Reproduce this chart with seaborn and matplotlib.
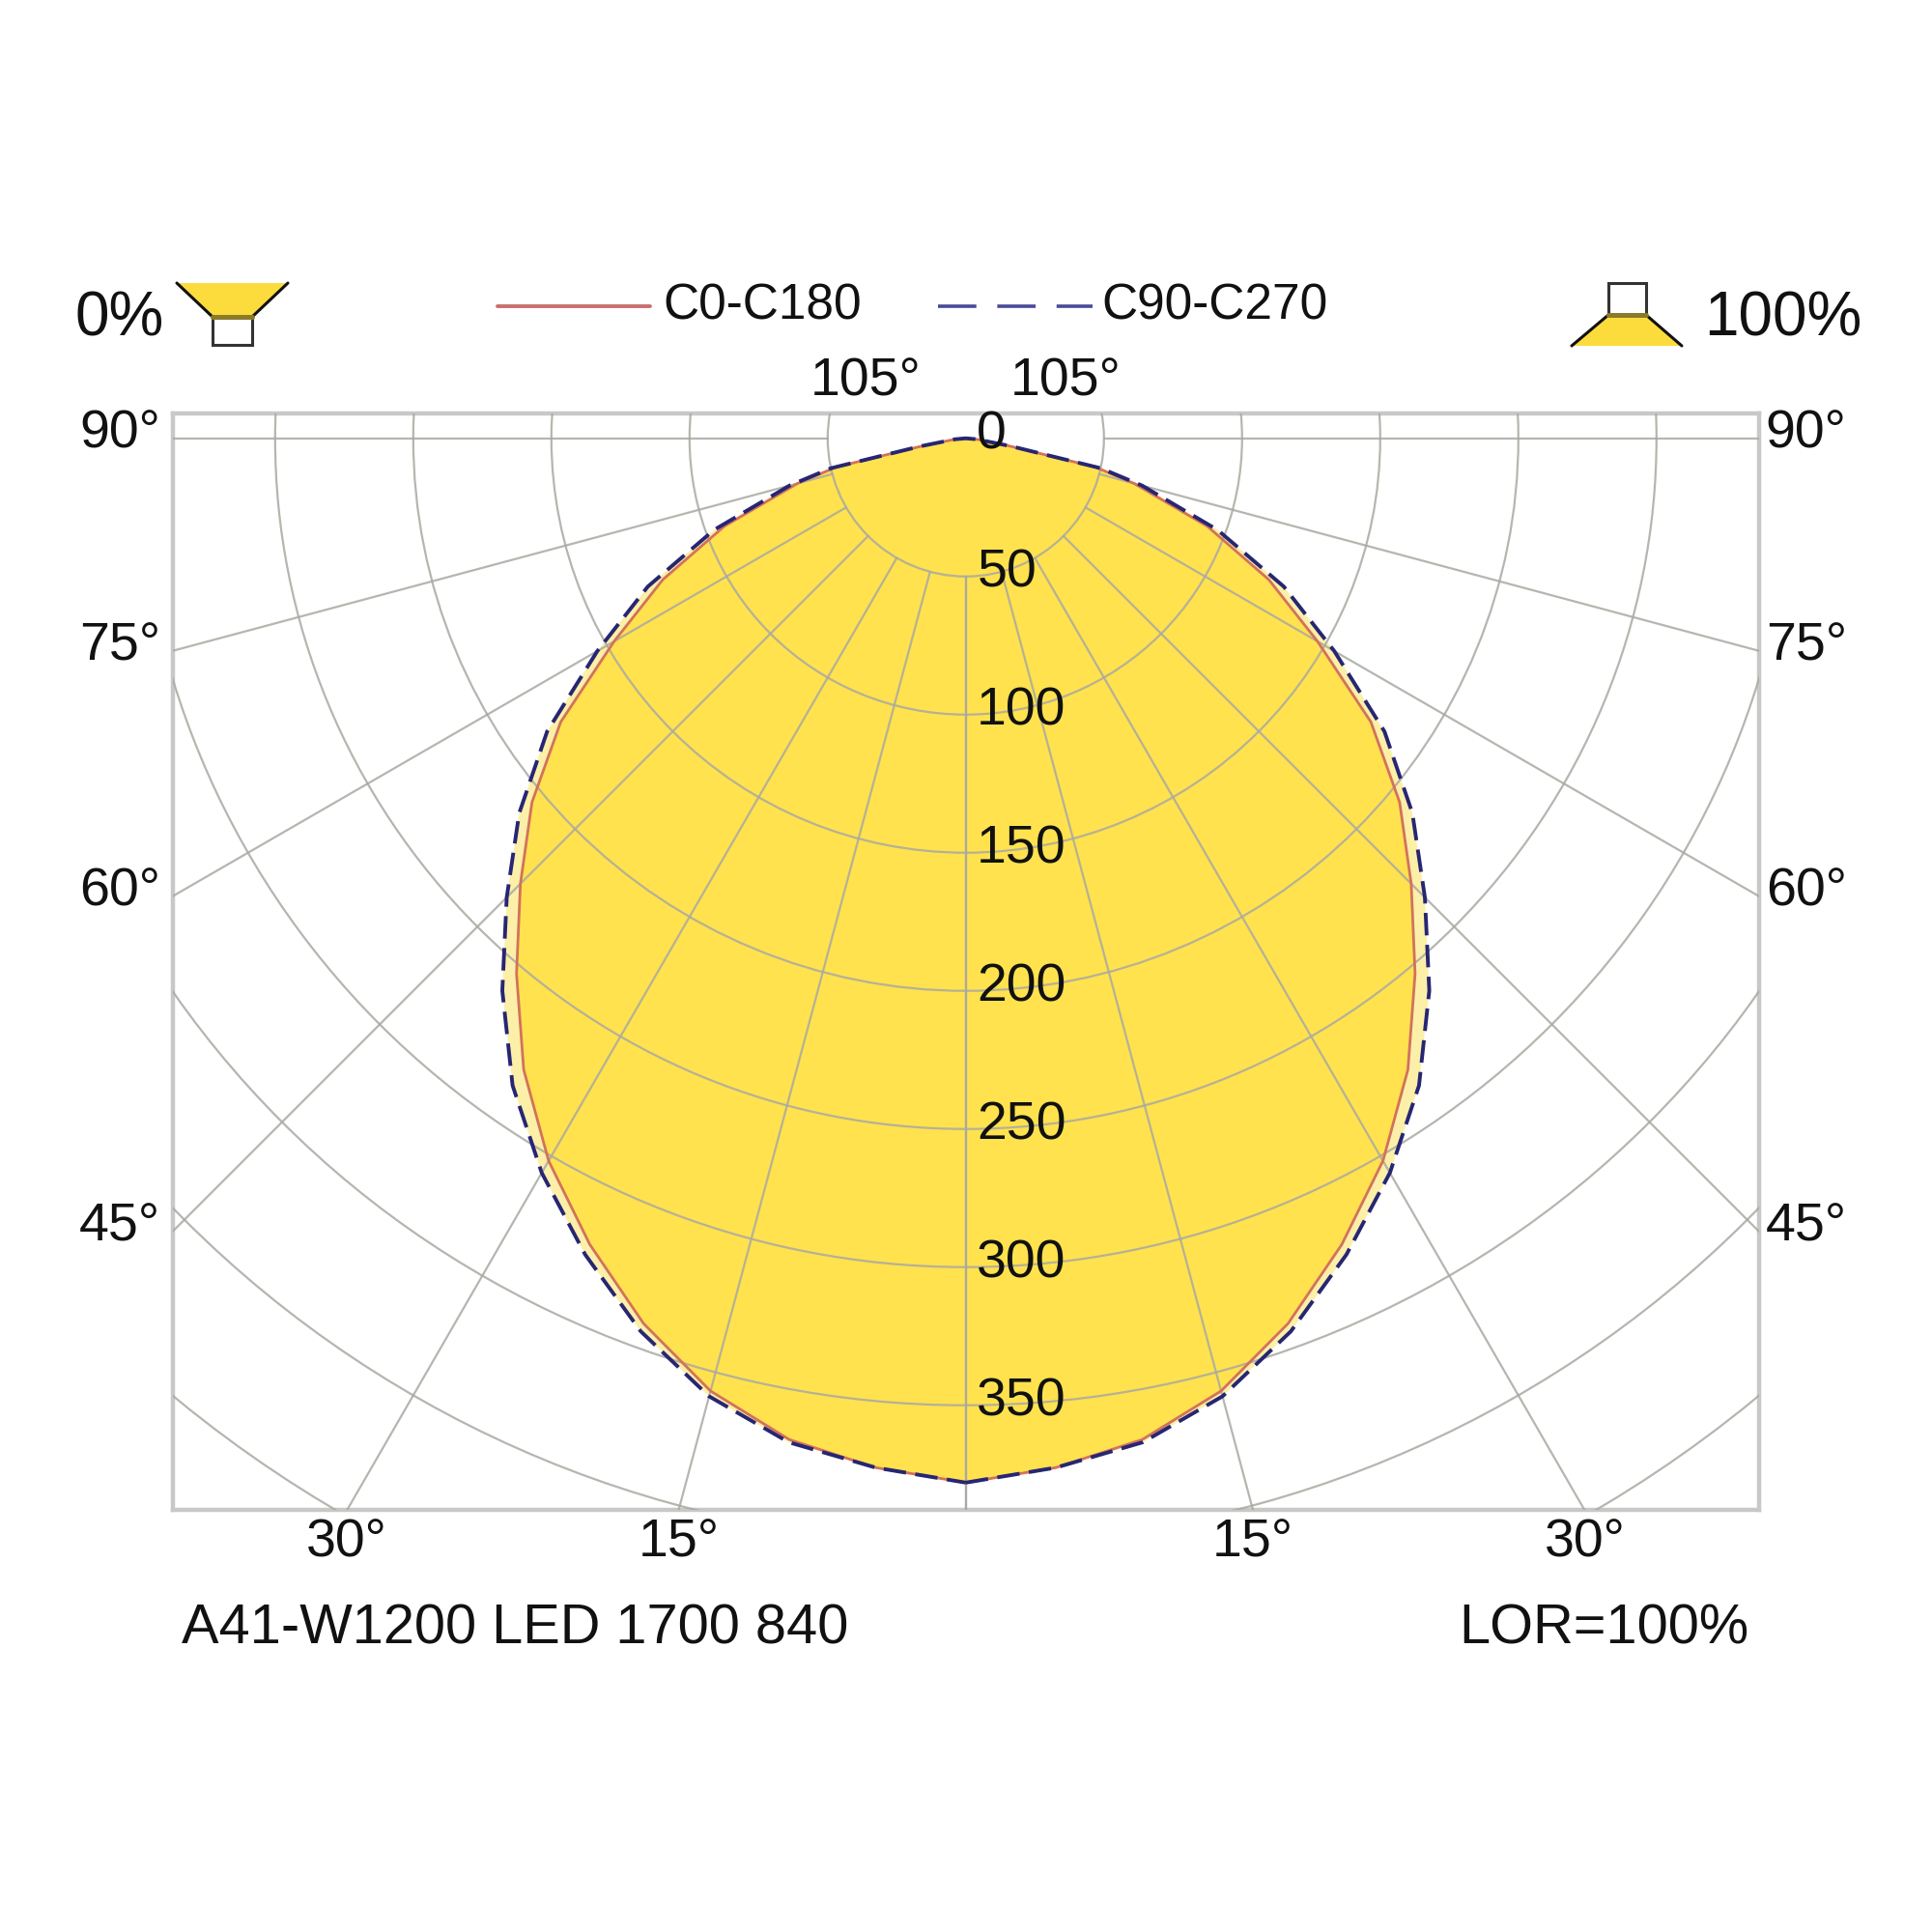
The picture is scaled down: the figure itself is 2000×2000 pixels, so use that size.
import numpy as np
import pandas as pd
import matplotlib
matplotlib.use("Agg")
import matplotlib.pyplot as plt
import seaborn as sns
from matplotlib.patches import Circle, Polygon
from matplotlib.lines import Line2D

sns.set_theme(style="white")
plt.rcParams["font.family"] = ["Liberation Sans", "DejaVu Sans"]

gamma = [0, 5, 10, 15, 20, 25, 30, 35, 40, 45, 50, 55, 60, 65, 70, 75, 77.5, 80, 85, 90]
c0_c180 = [378, 374, 368, 357, 341, 322, 302, 279, 253, 228, 205, 179, 147, 121, 93, 63, 48, 16, 4, 0]
c90_c270 = [378, 374, 369, 359, 344, 326, 307, 286, 261, 235, 211, 185, 154, 127, 97, 66, 50, 17, 4, 0]

rings = [50, 100, 150, 200, 250, 300, 350, 400, 450]
ring_labels = [0, 50, 100, 150, 200, 250, 300, 350]
spokes = [0, 15, 30, 45, 60, 75, 90, 105]

side_labels = [90, 75, 60, 45]
bottom_labels = [15, 30]

XMAX, YMIN, YMAX = 287, -388, 9

df = pd.DataFrame({"gamma": gamma, "C0-C180": c0_c180, "C90-C270": c90_c270})


def outline(values):
    g = np.radians(np.array(df["gamma"]))
    v = np.array(values, dtype=float)
    # right half from nadir up, then mirrored left half back down
    x = np.concatenate([v * np.sin(g), (-v * np.sin(g))[::-1]])
    y = np.concatenate([-v * np.cos(g), (-v * np.cos(g))[::-1]])
    return x, y


fig = plt.figure(figsize=(10, 10), dpi=200)
fig.patch.set_facecolor("white")
ax = fig.add_axes([0.0895, 0.2183, 0.8208, 0.5677])
ax.set_xlim(-XMAX, XMAX)
ax.set_ylim(YMIN, YMAX)
ax.set_xticks([])
ax.set_yticks([])
for s in ax.spines.values():
    s.set_color("#c8c8c6")
    s.set_linewidth(1.6)

# fills
xb, yb = outline(df["C90-C270"])
xr, yr = outline(df["C0-C180"])
ax.fill(xb, yb, color="#fcefa8", lw=0, zorder=1)
ax.fill(xr, yr, color="#ffe24e", lw=0, zorder=1.5)

# grid
grid_col = "#a9a9a2"
for r in rings:
    ax.add_patch(Circle((0, 0), r, fill=False, ec=grid_col, lw=0.8, alpha=0.85, zorder=3))
for a in spokes:
    for sgn in (1, -1):
        t = np.radians(a) * sgn
        ax.plot([50 * np.sin(t), 700 * np.sin(t)], [-50 * np.cos(t), -700 * np.cos(t)],
                color=grid_col, lw=0.8, alpha=0.85, zorder=3)

# curves
sns.lineplot(x=xr, y=yr, sort=False, estimator=None, ax=ax, color="#d2725c", lw=1.0, zorder=4)
sns.lineplot(x=xb, y=yb, sort=False, estimator=None, ax=ax, color="#262673", lw=1.4,
             linestyle=(0, (6, 2.5)), zorder=5)

# radius labels
for r in ring_labels:
    ax.text(4, -r + 1, str(r), fontsize=20, ha="left", va="center", color="#111111", zorder=6)

# angle labels
for a in side_labels:
    yy = 0 if a == 90 else -XMAX / np.tan(np.radians(a))
    ax.text(-XMAX - 4.5, yy + 1.5, f"{a}°", fontsize=20, ha="right", va="center", color="#111111")
    ax.text(XMAX + 2.5, yy + 1.5, f"{a}°", fontsize=20, ha="left", va="center", color="#111111")
for a in bottom_labels:
    xx = -YMIN * np.tan(np.radians(a))
    for sgn in (1, -1):
        ax.text(sgn * xx, YMIN - 12, f"{a}°", fontsize=20, ha="center", va="center", color="#111111")
xx = YMAX / np.tan(np.radians(15))
for sgn in (1, -1):
    ax.text(sgn * (xx + 2.5), YMAX + 11.5, "105°", fontsize=20, ha="center", va="center", color="#111111")

# legend
fig.add_artist(Line2D([0.2575, 0.3365], [0.8415, 0.8415], color="#c9706e", lw=1.4))
fig.text(0.343, 0.8415, "C0-C180", fontsize=18.5, ha="left", va="center", color="#111111")
fig.add_artist(Line2D([0.4855, 0.5655], [0.8415, 0.8415], color="#4a4a99", lw=1.3,
                      linestyle=(0, (11, 6))))
fig.text(0.570, 0.8415, "C90-C270", fontsize=18.5, ha="left", va="center", color="#111111")

# up / down light icons
fig.text(0.0385, 0.835, "0%", fontsize=23, ha="left", va="center", color="#111111")
fig.text(0.9635, 0.835, "100%", fontsize=23, ha="right", va="center", color="#111111")

tf = fig.transFigure
fig.add_artist(Polygon([[0.0915, 0.8535], [0.149, 0.8535], [0.1305, 0.836], [0.110, 0.836]],
                       closed=True, fc="#fcdc3c", ec="none", transform=tf))
fig.add_artist(Line2D([0.0915, 0.110], [0.8535, 0.836], color="#111111", lw=1.1))
fig.add_artist(Line2D([0.149, 0.1305], [0.8535, 0.836], color="#111111", lw=1.1))
fig.add_artist(Polygon([[0.110, 0.836], [0.1305, 0.836], [0.1305, 0.8215], [0.110, 0.8215]],
                       closed=True, fc="white", ec="#333333", lw=1.1, transform=tf))
fig.add_artist(Line2D([0.110, 0.1305], [0.836, 0.836], color="#8a7a2a", lw=1.8))

fig.add_artist(Polygon([[0.8325, 0.837], [0.852, 0.837], [0.8705, 0.821], [0.8135, 0.821]],
                       closed=True, fc="#fcdc3c", ec="none", transform=tf))
fig.add_artist(Line2D([0.8325, 0.8135], [0.837, 0.821], color="#111111", lw=1.1))
fig.add_artist(Line2D([0.852, 0.8705], [0.837, 0.821], color="#111111", lw=1.1))
fig.add_artist(Polygon([[0.8325, 0.8535], [0.852, 0.8535], [0.852, 0.837], [0.8325, 0.837]],
                       closed=True, fc="white", ec="#333333", lw=1.1, transform=tf))
fig.add_artist(Line2D([0.8325, 0.852], [0.837, 0.837], color="#8a7a2a", lw=1.8))

# footer
fig.text(0.094, 0.1565, "A41-W1200 LED 1700 840", fontsize=20.8, ha="left", va="center", color="#111111")
fig.text(0.905, 0.1565, "LOR=100%", fontsize=20.8, ha="right", va="center", color="#111111")

fig.savefig("out.png", dpi=200, facecolor="white")
